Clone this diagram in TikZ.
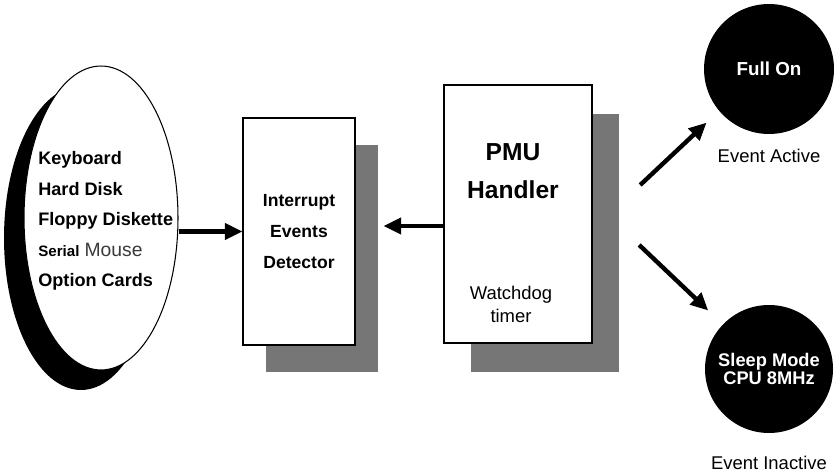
\documentclass[tikz,border=0pt]{standalone}
\usepackage{fontspec}
\setsansfont{Liberation Sans}
\usepackage{xcolor}
\usepackage{tikz}
\usetikzlibrary{shapes}
\usetikzlibrary{shapes.geometric}
\usetikzlibrary{arrows.meta}
\usetikzlibrary{shadows}
\usetikzlibrary{calc}
\usetikzlibrary{positioning}
\definecolor{tikz-shade}{HTML}{767676}
\definecolor{tikz-mouse}{HTML}{3A3A3A}
\tikzset{node distance=0.6cm, auto}
\tikzstyle{ln} = [draw, line width=2.5pt, -{Triangle[length=10pt, width=9pt]}]
\tikzstyle{state} = [circle, fill=black, text=white, inner sep=0pt, align=center]
\tikzstyle{caption} = [inner sep=0pt, align=center, font={\sffamily\fontsize{10.5}{13}\selectfont}]

\begin{document}
\begin{tikzpicture}[x=0.02cm, y=-0.02cm,
        src-shape/.style={ellipse, minimum width=3.08cm, minimum height=6.08cm, inner sep=0pt},
        box/.style={rectangle, draw=black, fill=white, inner sep=0pt, align=center}
      ]
      \useasboundingbox (0,0) rectangle (837,472);
      \node[src-shape, fill=black]                          (srcback) at (81,238)  {};
      \node[src-shape, draw=black, line width=0.6pt, fill=white] (src) at (101,218) {};
      \node[anchor=west, align=left, inner sep=0pt,
            font={\sffamily\bfseries\fontsize{10.3}{17.3}\selectfont}] (devices) at (38,221)
            {Keyboard\\Hard Disk\\Floppy Diskette\\
             {\fontsize{8.6}{17.3}\selectfont Serial} {\mdseries\color{tikz-mouse}\fontsize{11}{17.3}\selectfont Mouse}\\
             Option Cards};
      \node[box, line width=0.6pt, minimum width=2.24cm, minimum height=4.54cm,
            general shadow={fill=tikz-shade, shadow xshift=0.46cm, shadow yshift=-0.54cm},
            font={\sffamily\bfseries\fontsize{10}{17.9}\selectfont}] (iedet) at (299,231.5) {Interrupt\\Events\\Detector};
      \node[box, line width=1.4pt, minimum width=2.96cm, minimum height=5.16cm,
            general shadow={fill=tikz-shade, shadow xshift=0.54cm, shadow yshift=-0.58cm}] (pmu) at (518,214) {};
      \node[inner sep=0pt, align=center, below=1.18cm of pmu.north, xshift=-0.1cm,
            font={\sffamily\bfseries\fontsize{14}{22}\selectfont}] (pmutitle) {PMU\\Handler};
      \node[caption, above=0.42cm of pmu.south, xshift=-0.14cm] (wdog) {Watchdog\\timer};
      \node[state, minimum size=2.6cm, font={\sffamily\bfseries\fontsize{10.7}{12}\selectfont}] (full) at (769,69) {Full On};
      \node[state, minimum size=2.56cm, font={\sffamily\bfseries\fontsize{10.4}{10.5}\selectfont}] (sleep) at (769,369) {Sleep Mode\\CPU 8MHz};
      \node[caption, below=0.28cm of full]                  (evact)   {Event Active};
      \node[caption, below=0.44cm of sleep]                 (evinact) {Event Inactive};
      \draw[ln]                        (iedet.west -| src.east)              --  (iedet.west);
      \draw[ln, shorten >=0.56cm]      ([yshift=-0.24cm]pmu.west)            --  ([yshift=-0.24cm]pmu.west -| iedet.east);
      \draw[ln, shorten >=0.34cm]      ([xshift=0.94cm, yshift=0.58cm]pmu.east)  --  (full.220);
      \draw[ln, shorten >=0.4cm]       ([xshift=0.92cm, yshift=-0.62cm]pmu.east) --  (sleep.136);
    \end{tikzpicture}
\end{document}
